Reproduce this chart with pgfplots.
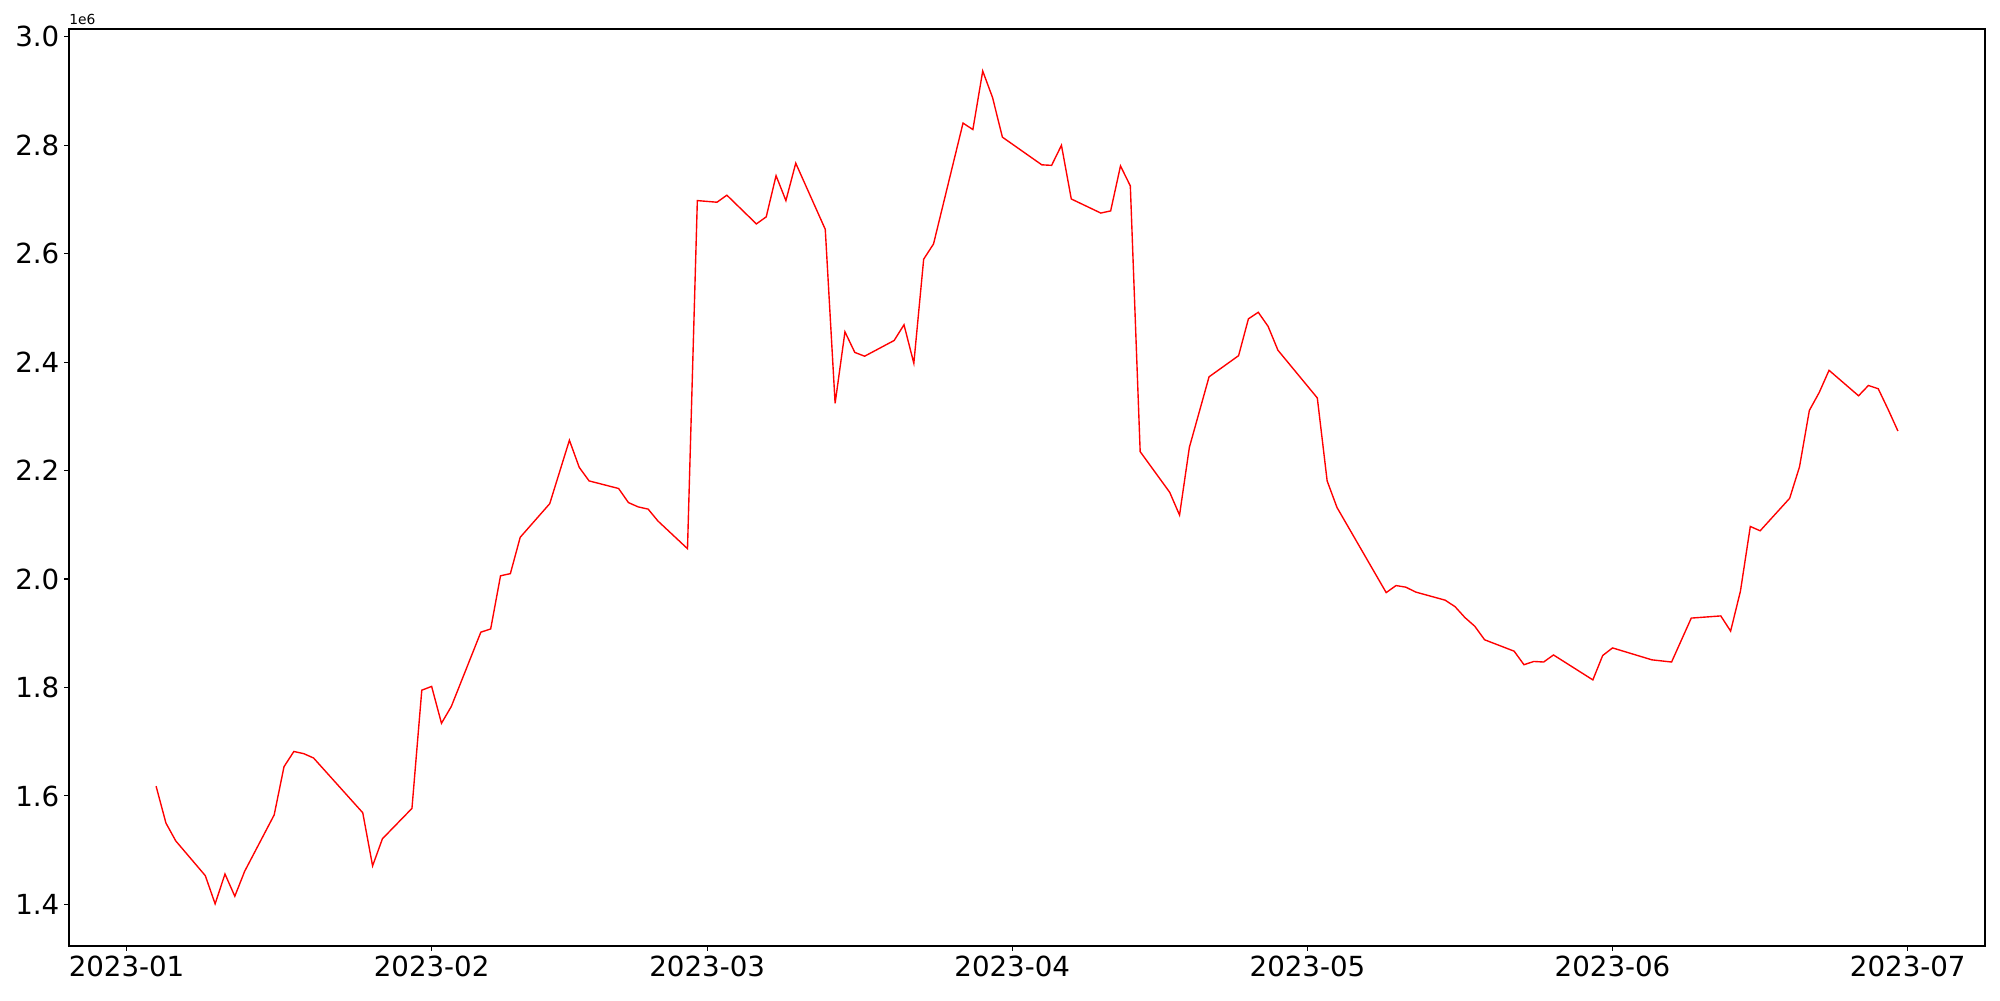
\documentclass[border=0pt]{standalone}
\usepackage{fontspec}
\setmainfont{DejaVu Sans}
\usepackage{pgfplots}
\pgfplotsset{compat=1.18}
% day of 2023 (0 = Jan 1), value in units of 1e6
\pgfplotstableread{
day val
3 1.618
4 1.550
5 1.517
8 1.453
9 1.401
10 1.456
11 1.415
12 1.461
15 1.565
16 1.654
17 1.682
18 1.678
19 1.670
24 1.569
25 1.471
26 1.521
29 1.577
30 1.795
31 1.802
32 1.734
33 1.765
36 1.902
37 1.908
38 2.006
39 2.010
40 2.077
43 2.139
45 2.256
46 2.206
47 2.181
50 2.167
51 2.141
52 2.133
53 2.129
54 2.107
57 2.056
58 2.698
60 2.695
61 2.708
64 2.655
65 2.668
66 2.744
67 2.698
68 2.767
71 2.645
72 2.324
73 2.456
74 2.418
75 2.411
78 2.440
79 2.469
80 2.398
81 2.590
82 2.618
85 2.841
86 2.829
87 2.937
88 2.888
89 2.815
93 2.764
94 2.763
95 2.800
96 2.701
99 2.675
100 2.679
101 2.762
102 2.725
103 2.235
106 2.160
107 2.118
108 2.243
110 2.373
113 2.412
114 2.480
115 2.492
116 2.466
117 2.422
121 2.334
122 2.181
123 2.132
128 1.975
129 1.988
130 1.985
131 1.976
134 1.961
135 1.949
136 1.929
137 1.913
138 1.888
141 1.867
142 1.842
143 1.848
144 1.847
145 1.860
149 1.814
150 1.859
151 1.873
155 1.851
157 1.847
159 1.928
162 1.932
163 1.904
164 1.978
165 2.097
166 2.089
169 2.149
170 2.207
171 2.311
172 2.344
173 2.385
176 2.338
177 2.357
178 2.351
179 2.313
180 2.273
}\series
\begin{document}
\begin{tikzpicture}
\begin{axis}[
  scale only axis,
  width=19.16in, height=9.17in,
  xmin=-5.85, xmax=188.85,
  ymin=1.3232, ymax=3.0145,
  xtick={0,31,59,90,120,151,181},
  xticklabels={2023-01,2023-02,2023-03,2023-04,2023-05,2023-06,2023-07},
  ytick={1.4,1.6,1.8,2.0,2.2,2.4,2.6,2.8,3.0},
  xtick pos=lower, ytick pos=left,
  tick align=outside,
  major tick length=3.5pt,
  tick style={black, line width=0.8pt},
  axis line style={line width=0.8pt},
  every tick label/.append style={font=\fontsize{20}{24}\selectfont},
  /pgf/number format/assume math mode=true,
  yticklabel style={/pgf/number format/.cd, fixed, fixed zerofill, precision=1},
  scaled y ticks=false,
]
\addplot[red, line width=1pt, no markers] table[x=day, y=val] {\series};
\end{axis}
\node[anchor=south west, inner sep=0pt, yshift=3pt, font=\fontsize{10}{12}\selectfont] at (current axis.north west) {1e6};
\path ([shift={(-0.69in,-0.54in)}]current axis.south west) rectangle ([shift={(0.15in,0.29in)}]current axis.north east);
\end{tikzpicture}
\end{document}
